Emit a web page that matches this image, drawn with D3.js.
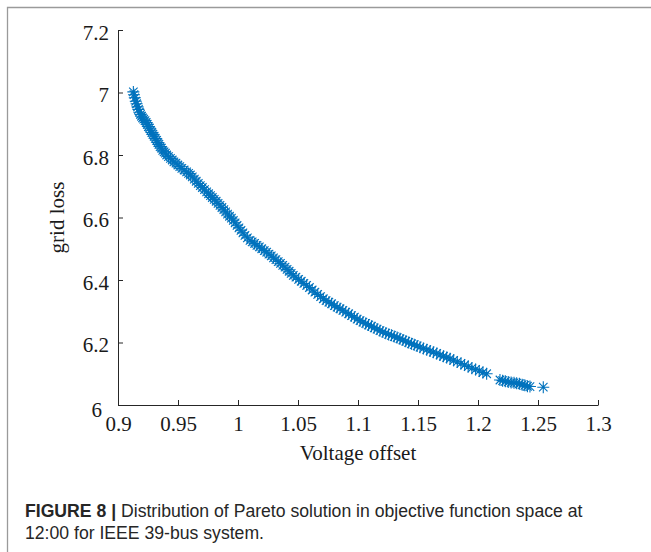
<!DOCTYPE html>
<html><head><meta charset="utf-8">
<script src="https://cdn.jsdelivr.net/npm/d3@7"></script>
<style>body{margin:0;background:#fff}svg{display:block}</style>
</head><body>
<svg id="c" width="651" height="552"></svg>
<script>
// Data (Pareto front: Voltage offset vs grid loss)
const voltageOffset = [
0.9128,0.9133,0.9140,0.9148,0.9155,0.9163,0.9170,0.9178,0.9187,0.9196,0.9204,0.9214,0.9225,
0.9235,0.9244,0.9253,0.9262,0.9272,0.9282,0.9291,0.9301,0.9311,0.9322,
0.9332,0.9341,0.9351,0.9362,0.9373,0.9384,0.9395,0.9406,
0.9421,0.9437,0.9452,0.9466,0.9483,0.9499,0.9515,0.9532,0.9551,0.9572,
0.9588,0.9603,0.9619,0.9636,0.9652,0.9669,0.9686,0.9703,0.9721,0.9739,
0.9755,0.9771,0.9786,0.9802,0.9818,0.9834,0.9850,
0.9866,0.9882,0.9897,0.9913,0.9929,0.9945,0.9961,
0.9976,0.9992,1.0008,1.0025,1.0041,1.0058,1.0078,1.0100,
1.0118,1.0138,1.0158,1.0178,1.0198,1.0219,1.0239,
1.0258,1.0277,1.0296,1.0316,1.0335,1.0354,1.0373,1.0392,
1.0409,1.0426,1.0443,1.0461,
1.0483,1.0505,1.0527,1.0549,1.0572,
1.0595,1.0618,1.0641,1.0664,1.0688,1.0711,
1.0734,1.0757,1.0780,1.0803,1.0826,1.0850,
1.0874,1.0898,1.0922,1.0946,1.0970,1.0993,1.1017,
1.1041,1.1064,1.1088,1.1112,1.1135,1.1159,1.1183,
1.1207,1.1231,1.1255,1.1279,1.1302,1.1326,1.1350,
1.1374,1.1398,1.1422,1.1446,1.1469,1.1493,1.1517,
1.1545,1.1573,1.1601,1.1628,1.1656,1.1684,1.1712,1.1739,1.1767,
1.1797,1.1827,1.1858,1.1888,1.1918,1.1949,1.1980,1.2010,1.2041,1.2072,
1.2183,1.2205,1.2228,1.2252,1.2276,1.2300,1.2322,1.2345,1.2368,1.2390,1.2412,1.2433,1.2544
];
const gridLoss = [
7.002,6.993,6.983,6.972,6.964,6.954,6.946,6.937,6.930,6.924,6.919,6.915,6.910,
6.904,6.898,6.891,6.886,6.879,6.872,6.866,6.860,6.853,6.847,
6.840,6.834,6.827,6.822,6.815,6.810,6.806,6.800,
6.795,6.789,6.784,6.778,6.774,6.768,6.763,6.757,6.752,6.746,
6.741,6.736,6.730,6.723,6.716,6.709,6.702,6.696,6.689,6.682,
6.676,6.670,6.664,6.658,6.652,6.645,6.639,
6.632,6.625,6.618,6.611,6.604,6.598,6.591,
6.583,6.575,6.567,6.559,6.551,6.543,6.535,6.527,
6.522,6.517,6.511,6.506,6.500,6.494,6.489,
6.483,6.477,6.471,6.465,6.459,6.453,6.447,6.441,
6.434,6.428,6.421,6.415,
6.409,6.402,6.396,6.389,6.383,
6.376,6.368,6.361,6.354,6.347,6.340,
6.334,6.329,6.324,6.318,6.313,6.308,
6.303,6.297,6.292,6.286,6.281,6.275,6.270,
6.265,6.261,6.256,6.252,6.247,6.243,6.238,
6.234,6.230,6.226,6.223,6.219,6.216,6.212,
6.208,6.204,6.200,6.196,6.193,6.189,6.185,
6.181,6.177,6.173,6.169,6.165,6.160,6.156,6.152,6.148,
6.143,6.138,6.133,6.128,6.123,6.118,6.114,6.109,6.104,6.100,
6.080,6.078,6.076,6.074,6.072,6.071,6.070,6.068,6.065,6.063,6.060,6.059,6.057
];
const xTicks = [0.9,0.95,1,1.05,1.1,1.15,1.2,1.25,1.3];
const yTicks = [6,6.2,6.4,6.6,6.8,7,7.2];
const xLabel = "Voltage offset";
const yLabel = "grid loss";
const captionBold = "FIGURE 8 | ";
const captionLine1 = "Distribution of Pareto solution in objective function space at";
const captionLine2 = "12:00 for IEEE 39-bus system.";

const svg = d3.select("#c");
const W = 651, H = 552;
const L = 118, R = 598, T = 30, B = 405;
const x = d3.scaleLinear().domain([0.9,1.3]).range([L,R]);
const y = d3.scaleLinear().domain([6,7.2]).range([B,T]);

// frame
svg.append("path").attr("d",`M7.5,${H} V7.5 H${W}`).attr("fill","none")
  .attr("stroke","#9a9a9a").attr("stroke-width",1.3);

const serif = "'Liberation Serif','Times New Roman',serif";
const axCol = "#262626";

// X axis
const gx = svg.append("g").attr("transform",`translate(0,${B})`)
  .call(d3.axisBottom(x).tickValues(xTicks).tickSize(-5).tickSizeOuter(0).tickFormat(d3.format("~g")));
gx.select(".domain").attr("stroke",axCol).attr("stroke-width",1);
gx.selectAll(".tick line").attr("stroke",axCol);
gx.selectAll(".tick text").attr("y",26).attr("dy",0).attr("fill","#1a1a1a")
  .style("font-family",serif).style("font-size","21px");

// Y axis
const gy = svg.append("g").attr("transform",`translate(${L},0)`)
  .call(d3.axisLeft(y).tickValues(yTicks).tickSize(-5).tickSizeOuter(0).tickFormat(d3.format("~g")));
gy.select(".domain").attr("stroke",axCol).attr("stroke-width",1);
gy.selectAll(".tick line").attr("stroke",axCol);
gy.selectAll(".tick text")
  .attr("x",d=>d===6?-16:-9).attr("dy",0).attr("y",d=>d===6?11:9).attr("fill","#1a1a1a")
  .style("font-family",serif).style("font-size","21px");
gx.attr("font-family",null); gy.attr("font-family",null);

// axis titles
svg.append("text").attr("x",(L+R)/2).attr("y",460).attr("text-anchor","middle")
  .attr("fill","#1a1a1a").style("font-family",serif).style("font-size","21px").text(xLabel);
svg.append("text").attr("transform",`translate(64,${(T+B)/2}) rotate(-90)`).attr("text-anchor","middle")
  .attr("fill","#1a1a1a").style("font-family",serif).style("font-size","21px").text(yLabel);

// asterisk markers
const r = 6, d = r*0.7071;
const star = `M${-r},0H${r}M0,${-r}V${r}M${-d},${-d}L${d},${d}M${-d},${d}L${d},${-d}`;
const pts = voltageOffset.map((v,i)=>[v,gridLoss[i]]);
svg.append("g").selectAll("path").data(pts).join("path")
  .attr("transform",p=>`translate(${x(p[0])},${y(p[1])})`)
  .attr("d",star).attr("fill","none").attr("stroke","#0072BD").attr("stroke-width",1.1);

// caption
const sans = "'Liberation Sans Narrow','Arial Narrow','Liberation Sans',Arial,sans-serif";
const c1 = svg.append("text").attr("x",25).attr("y",517).attr("fill","#262626")
  .style("font-family",sans).style("font-size","18.5px");
c1.append("tspan").attr("font-weight","bold").text(captionBold);
c1.append("tspan").text(captionLine1);
const c2 = svg.append("text").attr("x",25).attr("y",539).attr("fill","#262626")
  .style("font-family",sans).style("font-size","18.5px").text(captionLine2);
const w1 = c1.node().getComputedTextLength();
const sx = 557.7 / w1;
c1.attr("transform",`translate(25,0) scale(${sx},1) translate(-25,0)`);
c2.attr("transform",`translate(25,0) scale(${sx},1) translate(-25,0)`);
</script>
</body></html>
